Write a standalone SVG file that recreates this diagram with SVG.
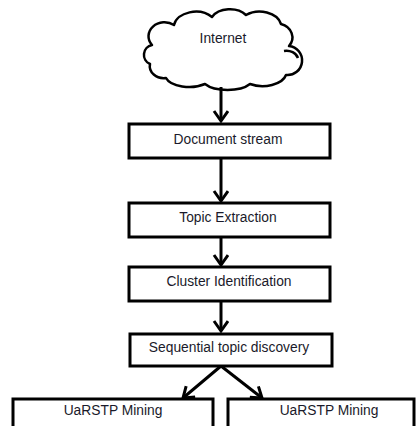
<svg xmlns="http://www.w3.org/2000/svg" width="417" height="426" viewBox="0 0 417 426">
<defs>
<style>
.box{fill:#fff;stroke:#000;stroke-width:3}
.lbl{font-family:"Liberation Sans",Arial,sans-serif;font-size:13.8px;fill:#1a1a2a;text-anchor:middle}
.con{fill:none;stroke:#000;stroke-width:3}
.cloud{fill:#fff;stroke:#000;stroke-width:2.5;stroke-linejoin:round}
</style>
<marker id="v" markerUnits="userSpaceOnUse" markerWidth="20" markerHeight="20" refX="11" refY="8" orient="auto" viewBox="0 0 20 20">
<polyline points="1,1 11,8 1,15" fill="none" stroke="#000" stroke-width="3"/>
</marker>
</defs>
<rect width="417" height="426" fill="#fff"/>
<g id="internet">
<path class="cloud" d="M152,45 A16,14 0 0 1 174,25 A22,16 0 0 1 212,17 A20,14 0 0 1 246,15 A22,16 0 0 1 281,24 A16,14 0 0 1 289,46 A14,14 0 0 1 286,75 A24,14 0 0 1 250,84 A26,12 0 0 1 205,84 A24,12 0 0 1 166,78 A14,12 0 0 1 150,64 A10,10 0 0 1 152,45 Z"/>
<path class="cloud" fill="none" d="M284,51 A12,10 0 0 1 298,58"/>
<text class="lbl" x="223" y="43">Internet</text>
</g>
<g id="connectors">
<line class="con" x1="221" y1="87" x2="221" y2="121" marker-end="url(#v)"/>
<line class="con" x1="221" y1="158" x2="221" y2="201" marker-end="url(#v)"/>
<line class="con" x1="221" y1="237" x2="221" y2="265" marker-end="url(#v)"/>
<line class="con" x1="221" y1="301" x2="221" y2="331" marker-end="url(#v)"/>
<line class="con" x1="221" y1="366" x2="183" y2="398" marker-end="url(#v)"/>
<line class="con" x1="221" y1="366" x2="262" y2="398" marker-end="url(#v)"/>
</g>
<g id="doc-stream">
<rect class="box" x="129" y="124" width="201" height="34"/>
<text class="lbl" x="228" y="144">Document stream</text>
</g>
<g id="topic-extraction">
<rect class="box" x="129" y="203" width="201" height="34"/>
<text class="lbl" x="228" y="222">Topic Extraction</text>
</g>
<g id="cluster-identification">
<rect class="box" x="129" y="267" width="201" height="34"/>
<text class="lbl" x="229" y="286">Cluster Identification</text>
</g>
<g id="sequential">
<rect class="box" x="130" y="334" width="202" height="32"/>
<text class="lbl" x="229" y="352">Sequential topic discovery</text>
</g>
<g id="uarstp-left">
<rect class="box" x="13" y="399" width="200" height="40"/>
<text class="lbl" x="113" y="415">UaRSTP Mining</text>
</g>
<g id="uarstp-right">
<rect class="box" x="228" y="399" width="186" height="40"/>
<text class="lbl" x="329" y="415">UaRSTP Mining</text>
</g>
</svg>
